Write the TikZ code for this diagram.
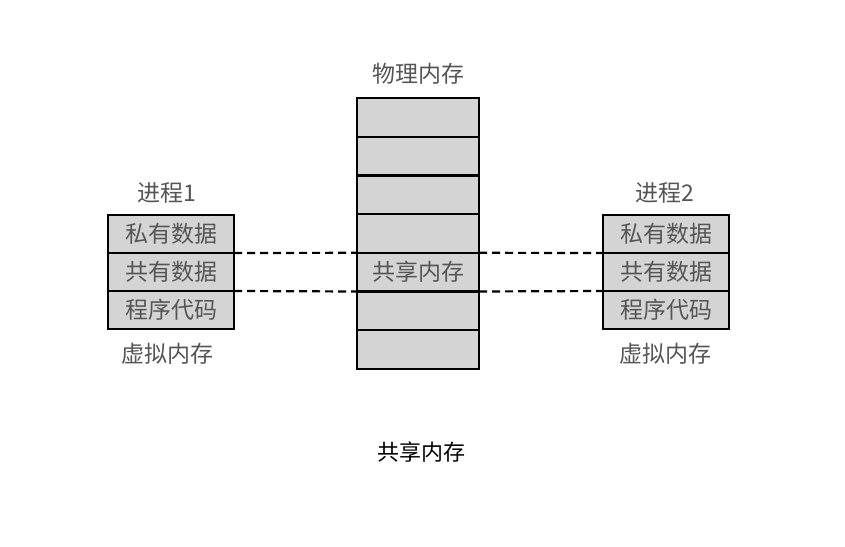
\documentclass[tikz,border=0pt]{standalone}
\usepackage{fontspec}
\newfontfamily\cjk{Noto Sans CJK SC}
\definecolor{cellgray}{HTML}{D4D4D4}
\definecolor{txtgray}{HTML}{555555}
\begin{document}
\begin{tikzpicture}[x=1pt,y=-1pt,
  cell/.style={draw=black,line width=2.2pt,fill=cellgray,minimum width=126pt,minimum height=38pt,
    inner sep=0pt,outer sep=0pt,anchor=north west,font=\cjk\fontsize{23}{25}\selectfont,text=txtgray},
  mcell/.style={cell,minimum width=122pt,minimum height=38.7pt},
  lbl/.style={font=\cjk\fontsize{23}{25}\selectfont,text=txtgray,inner sep=0pt},
  share/.style={dashed,line width=2.2pt,dash pattern=on 8pt off 5pt}]
\useasboundingbox[fill=white] (0,0) rectangle (845,546);
% left process
\node[cell] (l1) at (108,215) {私有数据};
\node[cell] (l2) at (108,253) {共有数据};
\node[cell] (l3) at (108,291) {程序代码};
\node[lbl] (p1) at (167,193) {进程1};
\node[lbl] (v1) at (167,354) {虚拟内存};
% physical memory
\node[mcell] (m1) at (357,98) {};
\node[mcell] (m2) at (357,136.7) {};
\node[mcell] (m3) at (357,175.4) {};
\node[mcell] (m4) at (357,214.1) {};
\node[mcell] (m5) at (357,252.8) {共享内存};
\node[mcell] (m6) at (357,291.5) {};
\node[mcell] (m7) at (357,330.2) {};
\node[lbl] (pm) at (418,74) {物理内存};
% right process
\node[cell] (r1) at (603,215) {私有数据};
\node[cell] (r2) at (603,253) {共有数据};
\node[cell] (r3) at (603,291) {程序代码};
\node[lbl] (p2) at (665,193) {进程2};
\node[lbl] (v2) at (665,354) {虚拟内存};
% shared mappings
\draw[share] (l2.north east) -- (m5.north west);
\draw[share] (l2.south east) -- (m5.south west);
\draw[share] (m5.north east) -- (r2.north west);
\draw[share] (m5.south east) -- (r2.south west);
% caption
\node[lbl,text=black,font=\cjk\fontsize{22}{24}\selectfont] (cap) at (421,452) {共享内存};
\end{tikzpicture}
\end{document}
